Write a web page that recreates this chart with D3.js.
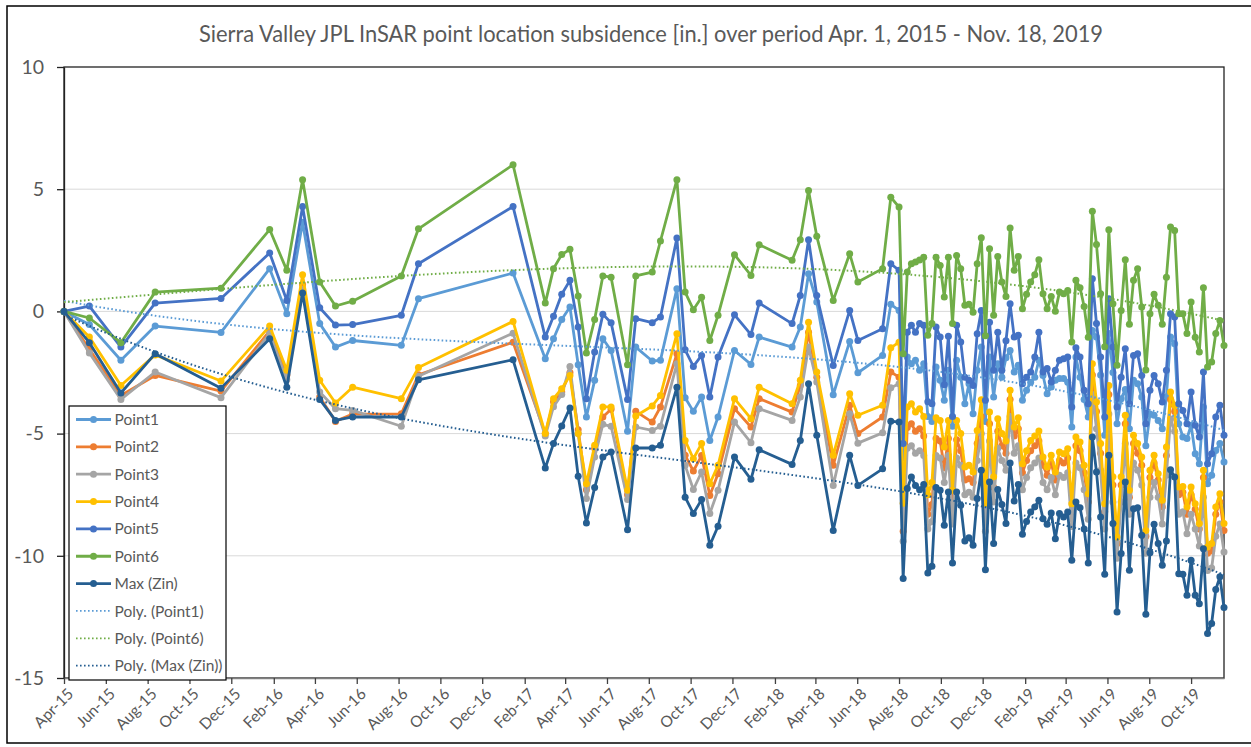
<!DOCTYPE html>
<html>
<head>
<meta charset="utf-8">
<script src="https://cdn.jsdelivr.net/npm/d3@7"></script>
<style>
  body { margin: 0; background: #fff; }
  svg text { font-family: Lato, "Open Sans", sans-serif; fill: #595959; }
</style>
</head>
<body>
<div id="plot"></div>
<script>
// Days since Apr. 1, 2015 for each InSAR acquisition
var startDate = Date.UTC(2015, 3, 1);
var dayOffsets = [
  0, 37, 83, 133, 229, 300, 325, 348, 373, 396, 421, 492, 517, 655,
  702, 714, 726, 738, 750, 762, 774, 786, 798, 822, 834, 858, 870, 894, 906, 918,
  930, 942, 954, 978, 1002, 1014, 1062, 1074, 1086, 1098, 1122, 1146, 1158, 1194, 1206, 1218,
  1224, 1230, 1236, 1242, 1248, 1254, 1260, 1266, 1272, 1278, 1284, 1290,
  1296, 1302, 1308, 1314, 1320, 1326, 1332, 1338, 1344, 1350, 1356, 1362,
  1368, 1374, 1380, 1386, 1392, 1398, 1404, 1410, 1416, 1422, 1428, 1434,
  1440, 1446, 1452, 1458, 1464, 1470, 1476, 1482, 1488, 1494, 1500, 1506,
  1512, 1518, 1524, 1530, 1536, 1542, 1548, 1554, 1560, 1566, 1572, 1578,
  1584, 1590, 1596, 1602, 1608, 1614, 1620, 1626, 1632, 1638, 1644, 1650,
  1656, 1662, 1668, 1674, 1680, 1686, 1692
];

var point1 = [
  0, -0.54, -2.0, -0.6, -0.86, 1.75, -0.1, 3.65, -0.5, -1.46, -1.19, -1.39, 0.52, 1.57,
  -1.94, -1.12, -0.33, 0.18, -2.18, -4.32, -2.82, -1.12, -1.6, -4.9,
  -1.46, -2.03, -2.0, 0.93, -3.53, -4.09, -3.5, -5.28, -4.32, -1.6,
  -2.17, -1.05, -1.46, -0.64, 1.54, 0.38, -3.41, -1.23, -2.51, -1.8, 0.29, 0.04,
  -6.0, -1.87, -2.14, -2.0, -2.41, -2.14, -4.3, -4.5, -2.28, -2.82,
  -3.64, -2.41, -4.7, -2.0, -2.69, -3.78, -2.96, -4.19, -2.41, -1.46,
  -4.5, -1.87, -3.5, -2.14, -2.69, -1.9, -1.6, -2.48, -2.2, -3.64,
  -3.23, -2.9, -2.69, -2.0, -2.62, -3.37, -3.09, -2.82, -2.75, -2.75,
  -2.9, -4.73, -1.87, -2.69, -3.6, -4.32, -0.78, -1.05, -2.6, -5.07,
  -0.9, -2.5, -4.6, -3.57, -3.2, -4.8, -2.82, -2.96, -3.5, -5.5,
  -4.2, -4.25, -4.46, -4.8, -3.5, -1.05, -1.32, -4.6, -5.14, -5.2,
  -4.66, -5.82, -6.23, -3.91, -7.05, -6.7, -5.69, -5.41, -6.16
];

var point2 = [
  0, -1.55, -3.44, -2.62, -3.26, -0.8, -2.6, 1.1, -3.5, -4.5, -4.2, -4.19, -2.59, -1.26,
  -5.0, -3.7, -3.3, -2.5, -4.84, -7.3, -5.6, -4.32, -4.0, -7.5,
  -4.09, -4.53, -3.91, -1.73, -5.89, -6.53, -5.9, -7.53, -6.64, -3.98,
  -4.73, -3.57, -4.12, -3.03, -0.85, -2.69, -6.3, -3.84, -5.0, -4.32, -2.48, -2.69,
  -9.0, -4.75, -4.6, -4.9, -4.8, -5.1, -8.3, -7.9, -5.2, -5.3,
  -6.4, -5.2, -8.0, -5.25, -5.7, -6.9, -6.85, -7.0, -5.4, -4.3,
  -8.4, -4.6, -7.2, -4.9, -5.5, -5.8, -3.6, -5.1, -4.8, -6.6,
  -6.1, -5.7, -5.5, -5.3, -6.3, -6.7, -6.2, -6.9, -6.1, -6.2,
  -6.0, -8.2, -5.5, -5.7, -6.6, -7.8, -2.6, -4.1, -5.8, -8.2,
  -3.4, -7.1, -9.5, -7.1, -4.6, -7.6, -5.4, -5.8, -6.3, -9.2,
  -6.8, -6.2, -6.9, -8.0, -5.9, -3.6, -4.1, -7.5, -7.4, -8.3,
  -7.5, -8.1, -8.9, -6.8, -9.9, -9.8, -8.3, -7.8, -8.96
];

var point3 = [
  0, -1.7, -3.6, -2.48, -3.53, -0.9, -2.8, 0.9, -3.3, -3.98, -4.05, -4.7, -2.65, -0.89,
  -5.1, -3.9, -3.4, -2.25, -5.0, -7.66, -5.96, -4.62, -4.7, -7.7,
  -4.73, -4.87, -4.7, -2.14, -6.3, -7.29, -6.57, -8.27, -7.32, -4.53,
  -5.37, -3.98, -4.46, -3.5, -1.46, -2.89, -7.12, -4.19, -5.39, -4.97, -3.12, -2.96,
  -9.4, -5.6, -5.5, -5.8, -5.7, -5.9, -8.9, -8.6, -5.9, -6.0,
  -7.0, -5.9, -8.7, -6.0, -6.3, -7.5, -7.4, -7.6, -6.1, -5.0,
  -9.0, -5.3, -7.8, -5.6, -6.1, -6.5, -4.3, -5.8, -5.5, -7.3,
  -6.8, -6.4, -6.2, -6.0, -7.0, -7.3, -6.8, -7.5, -6.7, -6.8,
  -6.6, -8.8, -6.2, -6.4, -7.3, -8.5, -3.4, -4.8, -6.5, -8.9,
  -4.2, -7.8, -10.1, -7.8, -5.4, -8.3, -6.2, -6.5, -7.1, -9.9,
  -7.6, -7.0, -7.6, -8.7, -6.7, -4.4, -4.9, -8.3, -8.2, -9.1,
  -8.3, -8.9, -9.6, -7.6, -10.6, -10.5, -9.2, -8.7, -9.84
];

var point4 = [
  0, -1.05, -3.03, -1.78, -2.85, -0.6, -2.41, 1.5, -2.82, -3.75, -3.1, -3.57, -2.3, -0.41,
  -5.0, -3.57, -3.16, -2.62, -5.0, -7.05, -5.48, -3.91, -3.91, -7.32,
  -4.28, -3.87, -3.44, -0.91, -5.28, -6.03, -5.41, -7.05, -6.3, -3.57,
  -4.39, -3.1, -3.78, -2.82, -0.44, -2.48, -5.89, -3.37, -4.25, -3.84, -1.49, -1.26,
  -7.85, -3.91, -3.78, -4.12, -3.98, -4.3, -7.5, -7.0, -4.35, -4.46,
  -5.55, -4.46, -7.32, -4.46, -5.0, -6.37, -6.3, -6.57, -4.87, -3.61,
  -7.87, -4.12, -6.77, -4.39, -5.0, -5.3, -3.23, -4.73, -4.35, -6.23,
  -5.7, -5.28, -5.1, -4.89, -5.96, -6.37, -5.89, -6.57, -5.75, -5.82,
  -5.62, -7.87, -5.14, -5.34, -6.3, -7.46, -2.14, -3.71, -5.41, -7.87,
  -3.03, -6.77, -9.23, -6.77, -4.25, -7.32, -5.07, -5.41, -5.96, -8.96,
  -6.5, -5.89, -6.64, -7.73, -5.55, -3.3, -3.84, -7.18, -7.16, -8.0,
  -7.18, -7.87, -8.68, -6.5, -9.64, -9.5, -8.0, -7.46, -8.68
];

var point5 = [
  0, 0.22, -1.46, 0.34, 0.53, 2.39, 0.45, 4.29, 0.15, -0.56, -0.54, -0.16, 1.95, 4.29,
  -1.05, -0.2, 0.7, 1.27, -0.64, -3.57, -1.66, -0.12, -0.46, -3.6,
  -0.3, -0.46, -0.23, 3.0, -1.57, -2.25, -1.8, -3.5, -1.87, -0.14,
  -0.95, 0.34, -0.5, 0.65, 2.93, 0.65, -2.21, 0.04, -1.19, -0.71, 1.95, 1.68,
  -5.4, -0.85, -0.57, -0.85, -0.5, -0.57, -3.7, -3.78, -0.64, -1.05,
  -3.0, -1.02, -4.3, -0.57, -1.25, -2.69, -2.82, -3.03, -0.91, 0.04,
  -3.64, -0.44, -2.41, -0.85, -2.41, -1.2, 0.31, -1.05, -0.98, -2.96,
  -2.69, -2.48, -1.87, -0.85, -2.48, -2.34, -2.89, -2.41, -2.0, -1.94,
  -1.87, -3.91, -1.49, -1.87, -3.23, -3.78, 1.34, -0.5, -1.87, -4.32,
  0.52, -1.46, -3.91, -2.69, -1.53, -3.78, -1.8, -1.73, -2.62, -4.6,
  -3.23, -2.62, -2.96, -3.71, -2.41, -0.1, -0.23, -3.78, -4.05, -4.6,
  -3.3, -4.66, -5.14, -2.48, -6.23, -5.82, -4.32, -3.84, -5.07
];

var point6 = [
  0, -0.27, -1.28, 0.79, 0.95, 3.35, 1.68, 5.39, 1.2, 0.22, 0.42, 1.45, 3.38, 6.0,
  0.34, 1.75, 2.33, 2.54, 0.63, -1.7, -0.33, 1.45, 1.4, -2.18,
  1.45, 1.61, 2.88, 5.39, 0.79, 0.07, 0.58, -1.19, -0.16, 2.32,
  1.47, 2.73, 2.09, 2.93, 4.95, 3.07, 0.45, 2.36, 1.2, 1.75, 4.67, 4.27,
  -1.73, 1.61, 1.95, 2.02, 2.1, 2.22, -0.98, -0.5, 2.22, 1.88,
  0.59, 2.22, -0.5, 2.29, 1.75, 0.25, 0.29, -0.03, 1.95, 3.01,
  -1.0, 2.56, -0.16, 2.25, 1.2, 0.61, 3.41, 1.68, 2.25, 0.11,
  0.7, 1.2, 1.5, 2.11, 0.72, 0.11, 0.61, 0.01, 0.79, 0.72,
  0.86, -1.25, 1.27, 0.97, 0.2, -1.06, 4.1, 2.74, 0.72, -1.45,
  3.34, 0.31, -2.2, 0.04, 2.11, -0.53, 1.27, 1.75, 0.18, -2.4,
  -0.1, 0.7, 0.25, -0.53, 1.4, 3.45, 3.31, -0.1, -0.1, -0.9,
  0.38, -1.06, -1.66, 0.97, -2.27, -2.07, -0.9, -0.37, -1.4
];

var maxZin = [
  0, -1.28, -3.34, -1.73, -3.14, -1.12, -3.1, 0.75, -3.6, -4.46, -4.32, -4.32, -2.8, -1.98,
  -6.41, -5.41, -4.69, -3.95, -6.75, -8.66, -7.21, -5.96, -5.75, -8.93,
  -5.59, -5.59, -5.48, -3.1, -7.6, -8.27, -7.7, -9.57, -8.79, -5.96,
  -6.87, -5.66, -6.26, -5.28, -2.96, -5.07, -8.96, -5.89, -7.12, -6.44, -4.49, -4.53,
  -10.93, -7.25, -6.78, -7.12, -7.3, -7.08, -10.7, -10.43, -7.21, -7.32,
  -8.75, -7.39, -10.29, -7.39, -7.93, -9.39, -9.26, -9.57, -7.66, -6.5,
  -10.57, -6.98, -9.5, -7.29, -7.9, -8.68, -6.2, -7.76, -7.08, -9.12,
  -8.6, -8.21, -8.0, -7.73, -8.48, -8.71, -8.25, -9.3, -8.27, -8.41,
  -8.21, -10.18, -7.8, -8.03, -8.9, -10.29, -5.14, -6.57, -8.41, -10.76,
  -5.89, -8.68, -12.3, -9.91, -6.98, -10.59, -8.07, -8.03, -9.16, -12.39,
  -9.88, -8.71, -9.5, -10.39, -9.39, -6.48, -6.78, -10.73, -10.76, -11.61,
  -10.18, -11.61, -11.96, -9.71, -13.18, -12.77, -11.38, -10.86, -12.12
];

var seriesNames = ["Point1", "Point2", "Point3", "Point4", "Point5", "Point6", "Max (Zin)"];
var seriesColors = ["#5B9BD5", "#ED7D31", "#A5A5A5", "#FFC000", "#4472C4", "#70AD47", "#255E91"];
var trendNames = ["Poly. (Point1)", "Poly. (Point6)", "Poly. (Max (Zin))"];
var yTicks = [10, 5, 0, -5, -10, -15];
var xTickLabels = ["Apr-15", "Jun-15", "Aug-15", "Oct-15", "Dec-15", "Feb-16", "Apr-16",
  "Jun-16", "Aug-16", "Oct-16", "Dec-16", "Feb-17", "Apr-17", "Jun-17", "Aug-17", "Oct-17",
  "Dec-17", "Feb-18", "Apr-18", "Jun-18", "Aug-18", "Oct-18", "Dec-18", "Feb-19", "Apr-19",
  "Jun-19", "Aug-19", "Oct-19"];

// least squares polynomial (like Excel's poly trendline)
function polyFit(xs, ys, order) {
  var n = order + 1, A = [], b = [], i, j, r, c;
  for (i = 0; i < n; i++) { A.push(new Array(n).fill(0)); b.push(0); }
  xs.forEach(function(xv, k) {
    for (i = 0; i < n; i++) {
      b[i] += ys[k] * Math.pow(xv, i);
      for (j = 0; j < n; j++) A[i][j] += Math.pow(xv, i + j);
    }
  });
  for (c = 0; c < n; c++) {
    var p = c;
    for (r = c + 1; r < n; r++) if (Math.abs(A[r][c]) > Math.abs(A[p][c])) p = r;
    var tmp = A[c]; A[c] = A[p]; A[p] = tmp;
    var tb = b[c]; b[c] = b[p]; b[p] = tb;
    for (r = c + 1; r < n; r++) {
      var f = A[r][c] / A[c][c];
      for (j = c; j < n; j++) A[r][j] -= f * A[c][j];
      b[r] -= f * b[c];
    }
  }
  var coef = new Array(n).fill(0);
  for (i = n - 1; i >= 0; i--) {
    var s = b[i];
    for (j = i + 1; j < n; j++) s -= A[i][j] * coef[j];
    coef[i] = s / A[i][i];
  }
  return coef;
}

function init() {
  var w = 1251, h = 747;
  var left = 64, right = 1224, top = 67, bottom = 678;

  var dates = dayOffsets.map(function(d) { return new Date(startDate + d * 86400000); });
  var seriesValues = [point1, point2, point3, point4, point5, point6, maxZin];

  var svg = d3.select("#plot").append("svg")
    .attr("width", w)
    .attr("height", h);

  // outer chart border
  svg.append("rect")
    .attr("x", 7).attr("y", 6)
    .attr("width", 1270).attr("height", 737)
    .attr("fill", "#fff")
    .attr("stroke", "#000")
    .attr("stroke-width", 1.5);

  var xScale = d3.scaleUtc()
    .domain([dates[0], dates[dates.length - 1]])
    .range([left, right]);

  var yScale = d3.scaleLinear()
    .domain([-15, 10])
    .range([bottom, top]);

  // gridlines
  svg.append("g").selectAll("line")
    .data(yTicks.filter(function(t) { return t > -15 && t < 10; }))
    .enter().append("line")
    .attr("x1", left).attr("x2", right)
    .attr("y1", function(d) { return yScale(d); })
    .attr("y2", function(d) { return yScale(d); })
    .attr("stroke", "#D9D9D9")
    .attr("stroke-width", 1);

  // plot area border (top / right)
  svg.append("rect")
    .attr("x", left).attr("y", top)
    .attr("width", right - left).attr("height", bottom - top)
    .attr("fill", "none")
    .attr("stroke", "#222")
    .attr("stroke-width", 1.3);

  // y axis
  var yAxis = d3.axisLeft(yScale)
    .tickValues(yTicks)
    .tickSize(7)
    .tickSizeOuter(0)
    .tickPadding(13)
    .tickFormat(function(d) { return String(d); });
  var gy = svg.append("g")
    .attr("transform", "translate(" + left + ",0)")
    .call(yAxis);
  gy.select(".domain").attr("stroke", "#222").attr("stroke-width", 1.3);
  gy.selectAll(".tick line").attr("stroke", "#222").attr("stroke-width", 1.3);
  gy.selectAll("text")
    .attr("fill", "#595959")
    .style("font-size", "19.5px")
    .style("font-family", "Lato, sans-serif");

  // x axis
  var parseTick = d3.utcParse("%b-%y");
  var xAxis = d3.axisBottom(xScale)
    .tickValues(xTickLabels.map(parseTick))
    .tickSize(6)
    .tickSizeOuter(0)
    .tickFormat(d3.utcFormat("%b-%y"));
  var gx = svg.append("g")
    .attr("transform", "translate(0," + bottom + ")")
    .call(xAxis);
  gx.select(".domain").attr("stroke", "#7F7F7F").attr("stroke-width", 1.6);
  gx.selectAll(".tick line").attr("stroke", "#404040").attr("stroke-width", 1.3);
  gx.selectAll("text")
    .attr("fill", "#595959")
    .attr("x", 0).attr("y", 0).attr("dy", "0.35em")
    .attr("transform", "translate(6,13) rotate(-45)")
    .style("text-anchor", "end")
    .style("font-size", "15.5px")
    .style("font-family", "Lato, sans-serif");

  var line = d3.line()
    .x(function(d) { return xScale(d[0]); })
    .y(function(d) { return yScale(d[1]); });

  // data series, first series at the bottom
  seriesValues.forEach(function(vals, s) {
    var pts = vals.map(function(v, i) { return [dates[i], v]; });
    var g = svg.append("g");
    g.append("path")
      .datum(pts)
      .attr("d", line)
      .attr("fill", "none")
      .attr("stroke", seriesColors[s])
      .attr("stroke-width", 2.8)
      .attr("stroke-linejoin", "round");
    g.selectAll("circle")
      .data(pts)
      .enter().append("circle")
      .attr("cx", function(d) { return xScale(d[0]); })
      .attr("cy", function(d) { return yScale(d[1]); })
      .attr("r", 3.5)
      .attr("fill", seriesColors[s]);
  });

  // polynomial trendlines (order 3)
  var span = dayOffsets[dayOffsets.length - 1];
  var trendSeries = [
    { vals: point1, color: seriesColors[0] },
    { vals: point6, color: seriesColors[5] },
    { vals: maxZin, color: seriesColors[6] }
  ];
  var sampleDays = d3.range(0, span + 1, 6);
  trendSeries.forEach(function(t) {
    var coef = polyFit(dayOffsets.map(function(d) { return d / span; }), t.vals, 3);
    var pts = sampleDays.map(function(d) {
      var u = d / span, v = 0;
      for (var i = 0; i < coef.length; i++) v += coef[i] * Math.pow(u, i);
      return [new Date(startDate + d * 86400000), v];
    });
    svg.append("path")
      .datum(pts)
      .attr("d", line)
      .attr("fill", "none")
      .attr("stroke", t.color)
      .attr("stroke-width", 2)
      .attr("stroke-dasharray", "1.6,2.4");
  });

  // title
  svg.append("text")
    .attr("x", 651)
    .attr("y", 42)
    .attr("text-anchor", "middle")
    .attr("textLength", 904)
    .attr("lengthAdjust", "spacingAndGlyphs")
    .style("font-size", "22.5px")
    .style("fill", "#595959")
    .text("Sierra Valley JPL InSAR point location subsidence [in.] over period Apr. 1, 2015 - Nov. 18, 2019");

  // legend
  var legend = svg.append("g");
  legend.append("rect")
    .attr("x", 69).attr("y", 406)
    .attr("width", 157).attr("height", 274)
    .attr("fill", "#fff")
    .attr("stroke", "#000")
    .attr("stroke-width", 1.2);
  var items = seriesNames.map(function(n, i) { return { name: n, color: seriesColors[i], trend: false }; })
    .concat(trendNames.map(function(n, i) {
      return { name: n, color: [seriesColors[0], seriesColors[5], seriesColors[6]][i], trend: true };
    }));
  items.forEach(function(it, i) {
    var yy = 419.5 + i * 27.35;
    var gi = legend.append("g");
    gi.append("line")
      .attr("x1", 76).attr("x2", 111)
      .attr("y1", yy).attr("y2", yy)
      .attr("stroke", it.color)
      .attr("stroke-width", it.trend ? 1.8 : 2.8)
      .attr("stroke-dasharray", it.trend ? "1.6,2.4" : null);
    if (!it.trend) {
      gi.append("circle")
        .attr("cx", 93.5).attr("cy", yy).attr("r", 3.5)
        .attr("fill", it.color);
    }
    gi.append("text")
      .attr("x", 114.5).attr("y", yy)
      .attr("dy", "0.36em")
      .style("font-size", "15.5px")
      .text(it.name);
  });
}

window.onload = init;
</script>
</body>
</html>
